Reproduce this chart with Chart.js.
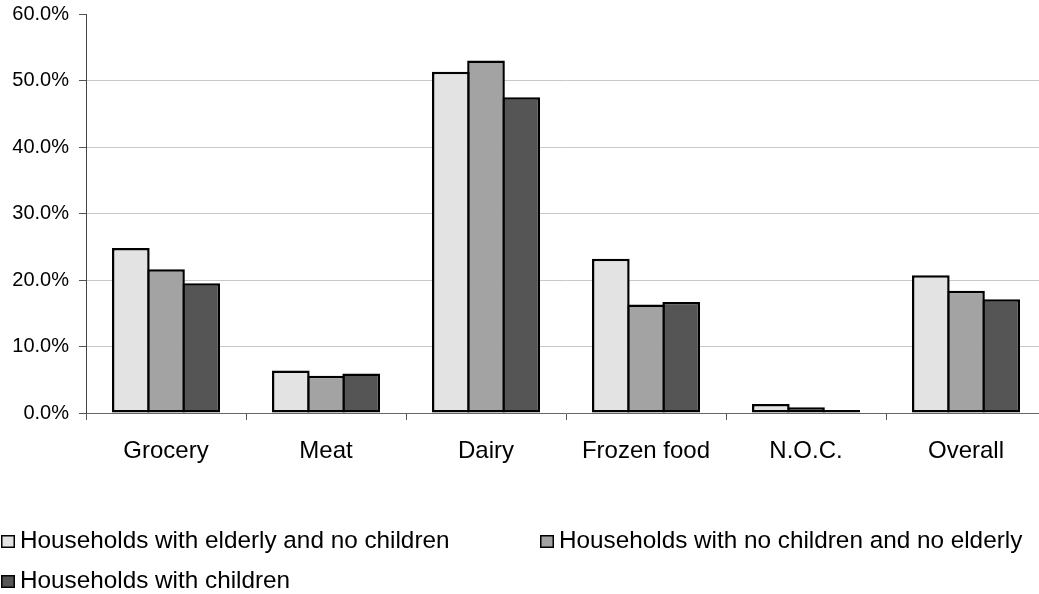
<!DOCTYPE html>
<html>
<head>
<meta charset="utf-8">
<script src="https://cdn.jsdelivr.net/npm/chart.js@4/dist/chart.umd.min.js"></script>
<style>
  html, body { margin: 0; padding: 0; background: #fff; overflow: hidden; }
  #wrap { width: 1046px; height: 594px; }
</style>
</head>
<body>
<div id="wrap"><canvas id="c" width="1046" height="594"></canvas></div>
<script>
// Share of purchases by product category and household type (%)
const categories = ['Grocery', 'Meat', 'Dairy', 'Frozen food', 'N.O.C.', 'Overall'];
const seriesNames = [
  'Households with elderly and no children',
  'Households with no children and no elderly',
  'Households with children'
];
const elderlyNoChildren = [24.8, 6.4, 51.3, 23.2, 1.35, 20.7];
const noChildrenNoElderly = [21.6, 5.6, 53.0, 16.3, 0.85, 18.4];
const withChildren = [19.5, 5.95, 47.5, 16.7, 0.45, 17.1];
const yTicks = [0, 10, 20, 30, 40, 50, 60];

const FONT = '"Liberation Sans", Arial, sans-serif';
const fills = ['#e3e3e3', '#a3a3a3', '#555555'];
const BW = 2.5;

// Legend laid out as a two-column grid under the plot
const gridLegend = {
  id: 'gridLegend',
  afterDraw(chart) {
    const ctx = chart.ctx;
    const slots = [[1, 541], [540, 541], [1, 581]];
    ctx.save();
    chart.data.datasets.forEach((ds, i) => {
      const [x, y] = slots[i];
      ctx.fillStyle = ds.backgroundColor;
      ctx.fillRect(x, y - 6, 14, 13);
      ctx.strokeStyle = '#000';
      ctx.lineWidth = 1.5;
      ctx.strokeRect(x + 0.75, y - 5.25, 12.5, 11.5);
      ctx.fillStyle = '#000';
      ctx.font = '24.3px ' + FONT;
      ctx.textBaseline = 'middle';
      ctx.textAlign = 'left';
      ctx.fillText(ds.label, x + 19, y);
    });
    ctx.restore();
  }
};

const mkSet = (i, data) => ({
  label: seriesNames[i],
  data,
  backgroundColor: fills[i],
  borderColor: '#000',
  borderWidth: BW,
  borderSkipped: false,
  categoryPercentage: 0.6594,
  barPercentage: 1.071
});

new Chart(document.getElementById('c'), {
  type: 'bar',
  data: {
    labels: categories,
    datasets: [
      mkSet(0, elderlyNoChildren),
      mkSet(1, noChildrenNoElderly),
      mkSet(2, withChildren)
    ]
  },
  options: {
    responsive: false,
    animation: false,
    devicePixelRatio: 1,
    layout: { padding: { top: 14, left: 0, right: 0, bottom: 0 } },
    plugins: {
      legend: { display: false },
      tooltip: { enabled: false }
    },
    scales: {
      x: {
        grid: {
          drawOnChartArea: false,
          drawTicks: true,
          tickLength: 7,
          tickColor: '#555',
          offset: true
        },
        border: { color: '#666', width: 1 },
        ticks: {
          color: '#000',
          font: { family: FONT, size: 24 },
          padding: 17,
          maxRotation: 0,
          autoSkip: false
        },
        afterFit(scale) { scale.height = 181; }
      },
      y: {
        min: 0,
        max: 60,
        afterBuildTicks(scale) { scale.ticks = yTicks.map(v => ({ value: v })); },
        grid: {
          color: ctx => (ctx.tick && (ctx.tick.value === 0 || ctx.tick.value === 60)) ? 'rgba(0,0,0,0)' : '#c8c8c8',
          tickColor: '#555',
          tickLength: 7,
          lineWidth: 1
        },
        border: { color: '#444', width: 1 },
        ticks: {
          color: '#000',
          font: { family: FONT, size: 20 },
          padding: 10,
          callback: v => v.toFixed(1) + '%'
        },
        afterFit(scale) {
          scale.width = 86;
          scale.paddingTop = 0;
          scale.paddingBottom = 0;
        }
      }
    }
  },
  plugins: [gridLegend]
});
</script>
</body>
</html>
